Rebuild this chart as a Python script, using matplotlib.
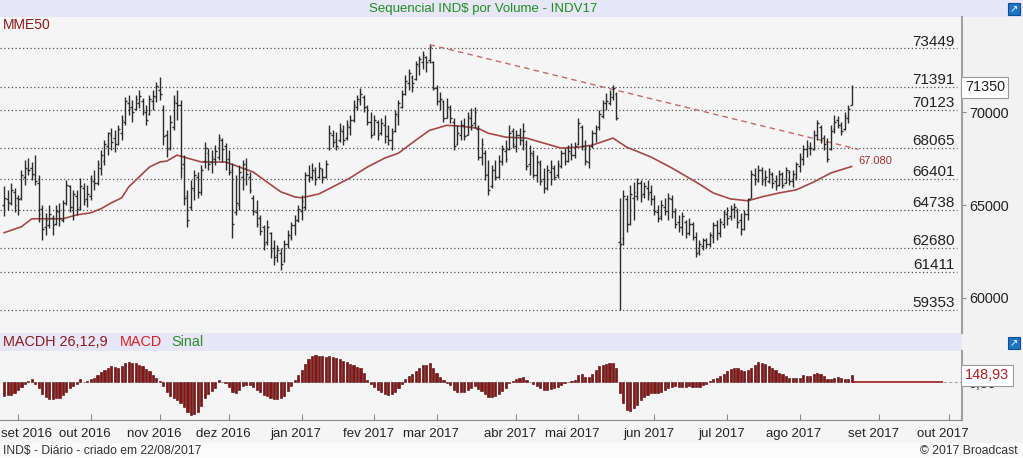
import numpy as np
import matplotlib
matplotlib.use('Agg')
import matplotlib.pyplot as plt
from matplotlib.patches import Rectangle

plt.rcParams['font.family'] = ['Liberation Sans', 'DejaVu Sans']

# daily OHLC bars, 26/08/2016 .. 22/08/2017 (index = trading day)
opens = [65000, 65300, 65100, 65700, 65400, 65400, 66500, 66900, 67000, 66600,
         66200, 64800, 63800, 63900, 64300, 64000, 64600, 64200, 65100, 66000,
         64900, 65500, 64900, 65900, 65300, 65500, 66300, 66200, 67000, 67400,
         68200, 68800, 68600, 68300, 68900, 69500, 70500, 70300, 70200, 70500,
         70600, 70000, 69900, 70600, 70800, 71200, 70200, 68800, 68100, 69200,
         70500, 70400, 67200, 65500, 64900, 65800, 66500, 65700, 67400, 67800,
         67300, 67500, 67600, 68500, 68200, 67500, 66900, 64600, 65000, 66500,
         67000, 66500, 65400, 64600, 64300, 63800, 63000, 63500, 62700, 62300,
         62400, 62000, 62900, 63300, 63900, 64200, 64700, 64900, 66600, 66500,
         66800, 66500, 66900, 66500, 68100, 68800, 68500, 68500, 69000, 68600,
         69200, 69600, 70300, 70600, 70800, 70300, 69500, 68900, 69500, 68900,
         69300, 68700, 68500, 69000, 69800, 70300, 71000, 71600, 71900, 71800,
         72500, 72700, 73000, 72800, 72700, 71300, 70600, 70600, 69700, 70200,
         69500, 68300, 68800, 69300, 68800, 69700, 69400, 69100, 67600, 67800,
         66700, 66000, 66900, 66500, 67300, 67900, 68000, 69000, 68200, 68800,
         68500, 68300, 67200, 67700, 66600, 67200, 66400, 65900, 66800, 67000,
         66600, 67100, 67800, 67400, 67800, 67700, 68300, 69200, 68000, 67300,
         68200, 68900, 69200, 69800, 70500, 70500, 70800, 71000, 63000, 63200,
         65300, 64000, 65400, 65500, 66200, 65600, 65900, 65700, 65300, 64600,
         64400, 64900, 64700, 65300, 64600, 64100, 63800, 64100, 63500, 64000,
         63300, 62500, 62800, 63100, 62900, 63300, 63900, 63500, 64000, 64500,
         64400, 64800, 64700, 64200, 63700, 64500, 65400, 66600, 66300, 66900,
         66400, 66300, 66700, 66300, 66100, 66700, 66200, 66800, 66300, 66500,
         67100, 67500, 68000, 68100, 68000, 68800, 69200, 68600, 68400, 68000,
         69100, 69600, 69300, 69100, 69700, 70400]
highs = [66030, 65820, 66190, 65920, 65550, 66890, 67420, 67530, 67320, 67690,
         66620, 65010, 64580, 65010, 64470, 65010, 65120, 65280, 66350, 66080,
         65820, 65820, 66460, 66190, 66080, 66620, 66890, 67420, 67960, 68500,
         68930, 69140, 69030, 69300, 69840, 70800, 70910, 70640, 70910, 71180,
         70750, 70380, 70910, 71180, 71610, 71930, 70380, 69030, 69840, 70910,
         71180, 70640, 67690, 65820, 66350, 66890, 66780, 67160, 68390, 68070,
         67960, 68230, 68820, 68610, 68340, 67960, 67260, 66620, 67160, 67420,
         67530, 66780, 65550, 65280, 64470, 63940, 64210, 63560, 63130, 62860,
         62700, 63130, 63670, 64100, 64470, 65010, 65550, 66780, 67160, 67260,
         67050, 67320, 67000, 67420, 69300, 69030, 68930, 69410, 69300, 69570,
         69840, 70640, 70910, 71290, 70910, 70380, 70000, 69840, 69570, 69680,
         69840, 69300, 69140, 70110, 70640, 71180, 71990, 72360, 71990, 72790,
         73060, 73330, 73060, 73650, 72790, 71450, 71070, 70640, 70750, 70380,
         69680, 69300, 69570, 69680, 70000, 70210, 70270, 69300, 68610, 67960,
         67420, 67160, 67420, 67690, 68230, 68500, 69300, 69140, 69030, 69140,
         69410, 68500, 68230, 67960, 67690, 67420, 67000, 67160, 67420, 67160,
         67420, 67960, 68070, 68230, 68340, 68390, 69680, 69300, 68500, 68230,
         69030, 69300, 70110, 70640, 71020, 71180, 71450, 71070, 65390, 65820,
         65550, 66080, 66240, 66460, 66350, 66240, 66350, 66080, 65550, 65010,
         65280, 65390, 65650, 65550, 64850, 64470, 64640, 64210, 64310, 64100,
         63560, 63130, 63240, 63240, 63560, 64100, 64210, 64310, 64740, 64900,
         65010, 65120, 64850, 64580, 64740, 65390, 66890, 67000, 67160, 67050,
         66890, 67000, 66780, 66620, 66890, 66780, 67050, 66890, 66890, 67320,
         67800, 68230, 68500, 68390, 69030, 69570, 69300, 68770, 68610, 69300,
         69840, 69790, 69460, 70000, 70380, 71500]
lows = [64420, 64740, 65010, 64640, 64470, 65280, 66080, 66620, 66350, 66080,
        64100, 63130, 63400, 63780, 63400, 63940, 63880, 64100, 65010, 64640,
        64210, 64470, 64740, 65010, 64900, 65280, 65820, 66080, 66620, 67160,
        67690, 67960, 67850, 68230, 68500, 69300, 69840, 69460, 70110, 70210,
        69840, 69300, 69840, 70110, 70540, 70640, 68230, 67590, 67960, 69030,
        69570, 66460, 65010, 63830, 64740, 65280, 65390, 65550, 67000, 66890,
        66730, 67160, 67420, 67320, 66890, 66620, 63240, 64470, 64740, 65820,
        66080, 65650, 64470, 63830, 63400, 62600, 62860, 62170, 61790, 61950,
        61520, 61950, 62700, 63130, 63400, 64100, 64210, 64740, 66240, 66350,
        66080, 66460, 66190, 66460, 67960, 68120, 67960, 68390, 68230, 68500,
        68770, 69460, 70110, 70380, 70000, 69300, 68610, 68770, 68500, 68770,
        68340, 68230, 67960, 68930, 69300, 70210, 70910, 71180, 71070, 71720,
        71990, 72360, 72150, 72680, 71180, 70380, 70110, 69460, 69680, 69410,
        67960, 68230, 68500, 68500, 68770, 69030, 69140, 67420, 67160, 66350,
        65550, 65920, 66350, 66460, 67160, 67320, 67960, 68070, 67850, 68230,
        67960, 66890, 66620, 66460, 66240, 66080, 65650, 65820, 66080, 66350,
        66460, 67000, 67160, 67320, 67420, 67530, 68230, 67960, 67160, 67000,
        68070, 68390, 69030, 69680, 70110, 70380, 70640, 69570, 59350, 62860,
        63560, 63940, 64210, 65280, 65170, 65390, 65280, 65010, 64470, 64100,
        64210, 64470, 64210, 64310, 63780, 63560, 63400, 63240, 63400, 63130,
        62220, 62330, 62600, 62700, 62760, 62970, 63130, 63290, 63780, 63940,
        64210, 64310, 63780, 63400, 63670, 64210, 65390, 66080, 66240, 66080,
        66030, 66190, 65920, 65820, 66030, 65920, 66190, 66080, 65980, 66350,
        66780, 67160, 67590, 67690, 67960, 68500, 68340, 67960, 67320, 67960,
        68870, 69140, 68770, 69030, 69410, 70380]
closes = [65400, 65150, 65800, 65000, 65300, 66600, 67000, 66900, 66700, 66300,
          64500, 63700, 64200, 64500, 63900, 64700, 64300, 65100, 66100, 64900,
          65600, 64800, 66000, 65200, 65600, 66400, 66200, 67200, 67700, 68300,
          68900, 68400, 68300, 69100, 69600, 70600, 70200, 70000, 70700, 70900,
          70100, 69600, 70700, 70900, 71400, 71000, 68700, 68000, 69500, 70600,
          70400, 67000, 65400, 64200, 65900, 66600, 65700, 66900, 68100, 67200,
          67600, 67900, 68600, 68000, 67300, 66800, 64000, 65100, 66800, 67200,
          66700, 65800, 64700, 64000, 63600, 62900, 63800, 62500, 62200, 62600,
          61800, 62900, 63400, 63900, 64200, 64800, 65200, 66600, 66500, 66900,
          66400, 67000, 66500, 67200, 68900, 68400, 68200, 69100, 68500, 69300,
          69600, 70400, 70700, 71000, 70300, 69500, 68800, 69600, 68800, 69400,
          68700, 68500, 68900, 69900, 70500, 71000, 71700, 72100, 71600, 72600,
          72900, 73100, 72700, 73500, 71300, 70600, 70700, 69700, 70300, 69700,
          68200, 68900, 69300, 68700, 69800, 69300, 70000, 67600, 68300, 66600,
          65800, 66900, 66500, 67400, 68000, 67500, 68900, 68300, 68800, 68500,
          69000, 67100, 67800, 66600, 67300, 66300, 65900, 66900, 67100, 66500,
          67200, 67800, 67400, 67900, 67700, 68200, 69400, 68200, 67400, 68000,
          68900, 69100, 69900, 70500, 70600, 71000, 71300, 69700, 62900, 65500,
          64000, 65600, 65700, 66200, 65500, 66000, 65600, 65300, 64700, 64300,
          65000, 64700, 65400, 64700, 64000, 63800, 64400, 63500, 64000, 63300,
          62400, 62900, 63100, 62900, 63400, 63900, 63500, 64100, 64600, 64300,
          64800, 64900, 64100, 63700, 64500, 65300, 66700, 66400, 66900, 66300,
          66500, 66800, 66200, 66000, 66700, 66100, 66900, 66300, 66700, 67200,
          67600, 68000, 68200, 68100, 68800, 69400, 68500, 68300, 67500, 69000,
          69500, 69300, 69000, 69800, 70200, 71350]

# MACD histogram (26,12,9)
macdh = [-290, -260, -270, -230, -160, -100, -30, 30, 70, -40,
         -120, -250, -310, -340, -340, -330, -320, -260, -190, -120,
         -80, -40, 70, 10, 20, 60, 100, 150, 210, 260,
         300, 330, 320, 300, 330, 400, 420, 410, 400, 370,
         330, 280, 230, 160, 90, 20, -80, -190, -280, -330,
         -360, -430, -520, -610, -680, -660, -620, -500, -330, -240,
         -170, -110, 40, 10, -10, -90, -200, -230, -150, -80,
         -60, -50, -90, -150, -210, -260, -290, -330, -350, -340,
         -330, -280, -180, -80, 50, 150, 250, 390, 480, 540,
         560, 550, 540, 530, 540, 530, 500, 480, 450, 420,
         380, 350, 320, 300, 200, 40, -30, -90, -150, -200,
         -250, -260, -250, -200, -120, -40, 60, 130, 170, 240,
         300, 350, 360, 400, 300, 200, 120, 40, -10, -60,
         -150, -190, -200, -190, -150, -110, -70, -130, -170, -240,
         -300, -310, -290, -250, -180, -110, -20, 30, 60, 90,
         110, 50, 0, -40, -80, -110, -150, -150, -130, -110,
         -90, -50, -20, 10, 30, 50, 150, 170, 120, 110,
         180, 260, 340, 370, 390, 400, 410, 300, -220, -430,
         -570, -590, -540, -470, -370, -300, -260, -230, -230, -230,
         -190, -160, -110, -90, -80, -90, -100, -90, -80, -90,
         -100, -90, -60, -30, 30, 60, 90, 130, 180, 230,
         270, 290, 290, 250, 230, 250, 300, 350, 420, 410,
         380, 340, 300, 250, 200, 170, 130, 100, 90, 90,
         100, 150, 140, 130, 170, 190, 170, 130, 60, 70,
         100, 110, 90, 80, 70, 148.93]

# MME50 read at a few bars
mme_idx = [0, 5, 8, 13, 17, 21, 25, 28, 31, 34, 36, 39, 42, 45, 47, 50, 53, 57, 60, 64,
           68, 72, 76, 80, 84, 86, 91, 95, 100, 105, 110, 114, 119, 123, 128, 132, 137,
           140, 145, 151, 156, 161, 166, 170, 176, 180, 187, 193, 200, 205, 210, 215,
           219, 224, 229, 234, 239, 245]
mme_val = [63510, 63830, 64260, 64260, 64260, 64470, 64580, 64800, 65120, 65390, 65980,
           66510, 67050, 67320, 67370, 67690, 67530, 67320, 67320, 67320, 67050, 66780,
           66240, 65710, 65440, 65390, 65600, 65980, 66460, 67050, 67530, 67800, 68500,
           69030, 69300, 69250, 69140, 68870, 68660, 68610, 68340, 68070, 68120, 68230,
           68610, 68120, 67590, 67000, 66240, 65650, 65330, 65230, 65440, 65650, 65820,
           66240, 66730, 67080]

trend_idx = [123, 247]
trend_val = [73650, 68000]

levels = [73449, 71391, 70123, 68065, 66401, 64738, 62680, 61411, 59353]

month_idx = [4, 25, 45, 65, 86, 107, 125, 148, 166, 188, 209, 230, 253, 273]
month_lbl = ['set 2016', 'out 2016', 'nov 2016', 'dez 2016', 'jan 2017', 'fev 2017',
             'mar 2017', 'abr 2017', 'mai 2017', 'jun 2017', 'jul 2017', 'ago 2017',
             'set 2017', 'out 2017']

W, H = 1023, 458
fig = plt.figure(figsize=(W / 100, H / 100), dpi=100, facecolor='#f2f2f2')


def px_axes(x0, y0, x1, y1):
    return fig.add_axes([x0 / W, 1 - y1 / H, (x1 - x0) / W, (y1 - y0) / H])


def band(x0, y0, x1, y1, col):
    fig.add_artist(Rectangle((x0 / W, 1 - y1 / H), (x1 - x0) / W, (y1 - y0) / H,
                             transform=fig.transFigure, fc=col, ec='none', zorder=0))


band(0, 0, W, 17, '#e6e6f7')
band(0, 420, 962, 443, '#f5f5f5')
band(0, 443, W, H, '#fbfbfb')
band(0, 333, 962, 351, '#e6e6f7')

xlo, xhi = -1.2, 276.9
idx = np.arange(len(highs))

# ---- price panel
ax = px_axes(0, 17, 962, 333)
ax.set_facecolor('#f5f5f5')
ax.set_xlim(xlo, xhi)
ax.set_ylim(58100, 75140)
ax.hlines(levels, xlo, 275.4, colors='#505050', linestyles=(0, (1, 2)), lw=0.9)
for lv in levels:
    ax.annotate(str(lv), (274.8, lv), xytext=(0, 2), textcoords='offset points',
                ha='right', va='baseline', fontsize=11, color='#222222')
ax.plot(mme_idx, mme_val, color='#a54848', lw=1.2)
ax.plot(trend_idx, trend_val, color='#c46a6a', lw=1.0, ls=(0, (4, 3)))
ax.vlines(idx, lows, highs, color='#2b2b2b', lw=1.0)
ax.hlines(opens, idx - 0.5, idx, color='#2b2b2b', lw=1.0)
ax.hlines(closes, idx, idx + 0.5, color='#2b2b2b', lw=1.0)
ax.text(246.8, 67350, '67.080', fontsize=8, color='#a03030', va='center')
for s in ['top', 'left', 'bottom']:
    ax.spines[s].set_visible(False)
ax.spines['right'].set_color('#a0a0a0')
ax.spines['right'].set_linewidth(1.5)
ax.set_xticks([])
ax.yaxis.tick_right()
ax.set_yticks([60000, 65000, 70000])
ax.set_yticklabels(['60000', '65000', '70000'])
ax.tick_params(axis='y', length=3, color='#888888', labelsize=10.4, pad=2, labelcolor='#222222')
ax.text(1.003, 71350, '71350', transform=ax.get_yaxis_transform(), fontsize=10.4,
        va='center', ha='left', color='#222222', clip_on=False,
        bbox=dict(boxstyle='square,pad=0.25', fc='white', ec='#9a9a9a', lw=0.8))
fig.text(3 / W, 1 - 25 / H, 'MME50', color='#8b1a1a', fontsize=10, va='center')

# ---- MACD panel
ax2 = px_axes(0, 351, 962, 420)
ax2.set_facecolor('#f5f5f5')
ax2.set_xlim(xlo, xhi)
ax2.set_ylim(-780, 650)
ax2.bar(idx, macdh, width=0.62, color='#8b1212', edgecolor='#4a0000', lw=0.4)
ax2.hlines(0, len(macdh) - 1, 271.3, color='#a01818', lw=1.2)
ax2.hlines(0, 271.3, xhi, color='#aaaaaa', lw=0.8, linestyles=(0, (3, 2)))
for s in ['top', 'left']:
    ax2.spines[s].set_visible(False)
ax2.spines['right'].set_color('#a0a0a0')
ax2.spines['right'].set_linewidth(1.5)
ax2.spines['bottom'].set_color('#8a8a8a')
ax2.set_xticks(month_idx)
ax2.set_xticklabels([])
ax2.tick_params(axis='x', direction='in', length=4, color='#8a8a8a')
ax2.yaxis.tick_right()
ax2.set_yticks([0])
ax2.set_yticklabels(['0,00'])
ax2.tick_params(axis='y', length=3, color='#888888', labelsize=10.4, pad=2, labelcolor='#222222')
ax2.text(1.003, macdh[-1], '148,93', transform=ax2.get_yaxis_transform(), fontsize=10.4,
         va='center', ha='left', color='#b02020', clip_on=False,
         bbox=dict(boxstyle='square,pad=0.25', fc='white', ec='#9a9a9a', lw=0.8))
for k, (m, lb) in enumerate(zip(month_idx, month_lbl)):
    xm = m - 1.7 if k > 0 else m + 2.6
    ax2.text(xm, -0.2, lb, transform=ax2.get_xaxis_transform(), ha='center', va='center',
             fontsize=9.5, color='#222222', clip_on=False)

fig.text(3 / W, 1 - 342 / H, 'MACDH 26,12,9', color='#8b1a1a', fontsize=10.4, va='center')
fig.text(120 / W, 1 - 342 / H, 'MACD', color='#d42020', fontsize=10.4, va='center')
fig.text(171 / W, 1 - 342 / H, 'Sinal', color='#2e8b2e', fontsize=10.4, va='center')

fig.text(483 / W, 1 - 9 / H, 'Sequencial IND$ por Volume - INDV17', color='#1e8c1e',
         fontsize=9.5, ha='center', va='center')
fig.text(3 / W, 1 - 451 / H, 'IND$ - Diário - criado em 22/08/2017', color='#333333',
         fontsize=8.7, va='center')
fig.text(1018 / W, 1 - 451 / H, '© 2017 Broadcast', color='#333333', fontsize=8.7,
         ha='right', va='center')

# small export icons
for yy in [3, 337]:
    fig.add_artist(Rectangle((1008 / W, 1 - (yy + 12) / H), 12 / W, 12 / H,
                             transform=fig.transFigure, fc='#1f74c4', ec='#0d4f91', lw=0.8))
    fig.text(1014 / W, 1 - (yy + 6) / H, '↗', color='white', fontsize=7, ha='center',
             va='center', family='DejaVu Sans')

fig.savefig('out.png', dpi=100, facecolor=fig.get_facecolor())
